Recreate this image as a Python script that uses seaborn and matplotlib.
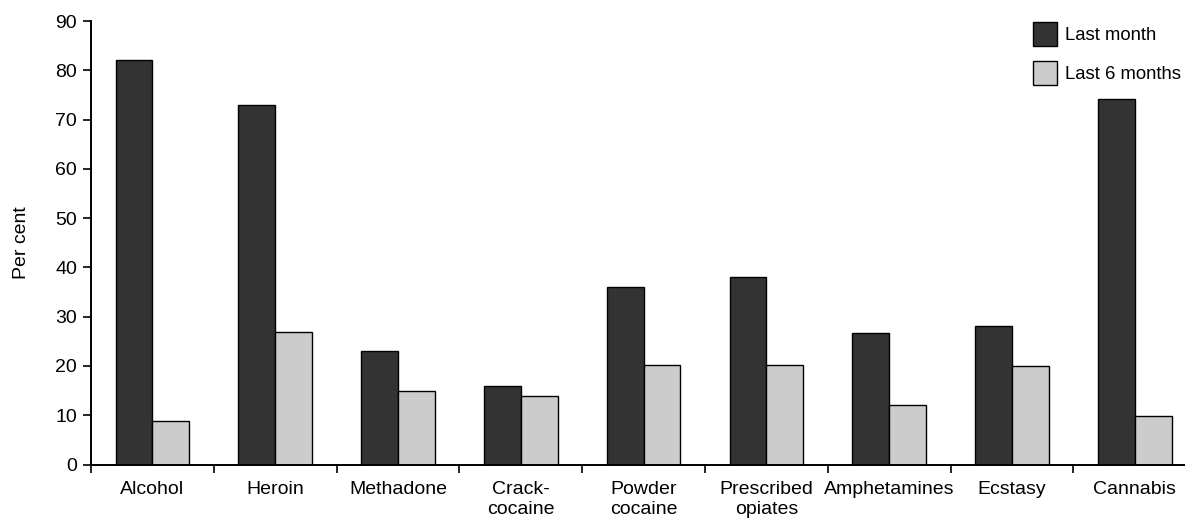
import matplotlib
matplotlib.use('Agg')
import matplotlib.pyplot as plt
import seaborn as sns
import pandas as pd
from matplotlib.patches import Patch
from matplotlib.ticker import FixedLocator

categories = ["Alcohol", "Heroin", "Methadone", "Crack-\ncocaine", "Powder\ncocaine",
              "Prescribed\nopiates", "Amphetamines", "Ecstasy", "Cannabis"]
last_month = [82.1, 72.9, 23.0, 16.0, 36.0, 38.1, 26.7, 28.1, 74.2]
last_6_months = [8.8, 26.8, 15.0, 13.9, 20.1, 20.1, 12.1, 20.0, 9.9]
series = ["Last month", "Last 6 months"]
colors = ["#333333", "#cccccc"]
yticks = list(range(0, 91, 10))

sns.set_theme(style="white")
plt.rcParams['font.family'] = ['Liberation Sans', 'DejaVu Sans']
plt.rcParams['font.size'] = 14
for k in ['text.color', 'axes.labelcolor', 'xtick.color', 'ytick.color']:
    plt.rcParams[k] = 'black'

FS = 14

df = pd.DataFrame({
    "category": categories * 2,
    "value": last_month + last_6_months,
    "series": [series[0]] * len(categories) + [series[1]] * len(categories),
})

fig = plt.figure(figsize=(11.85, 5.19), dpi=100)
W, H = 1185, 519
ax = fig.add_axes([91 / W, 1 - 464.5 / H, (W - 91) / W, (464.5 - 21) / H])

sns.barplot(data=df, x="category", y="value", hue="series", order=categories,
            hue_order=series, palette=colors, width=0.6, edgecolor="black",
            linewidth=1.0, saturation=1, ax=ax, legend=False)

ax.set_ylim(0, 90)
ax.set_xlim(-0.5, (W - 91) / 122.8 - 0.5)
ax.set_yticks(yticks)
ax.set_yticklabels([str(t) for t in yticks], fontsize=FS)
ax.set_xticks(range(len(categories)))
ax.set_xticklabels(categories, fontsize=FS, linespacing=1.2)
ax.xaxis.set_minor_locator(FixedLocator([i - 0.5 for i in range(len(categories) + 1)]))
ax.tick_params(axis='x', which='major', length=0, pad=12)
ax.tick_params(axis='x', which='minor', length=6, width=1.2, direction='out', color='black', bottom=True)
ax.tick_params(axis='y', which='major', length=6, width=1.2, direction='out', color='black', left=True, pad=4)
ax.set_xlabel("")
ax.set_ylabel("Per cent", fontsize=FS, labelpad=18)

for s in ["top", "right"]:
    ax.spines[s].set_visible(False)
for s in ["left", "bottom"]:
    ax.spines[s].set_color("black")
    ax.spines[s].set_linewidth(1.4)

handles = [Patch(facecolor=colors[0], edgecolor="black", linewidth=1.0),
           Patch(facecolor=colors[1], edgecolor="black", linewidth=1.0)]
fig.legend(handles, series, loc="upper left", bbox_to_anchor=(1033 / W, 1 - 22 / H),
           frameon=False, fontsize=13.3, handlelength=1.3, handleheight=1.6,
           handletextpad=0.42, labelspacing=0.85, borderpad=0, borderaxespad=0)

fig.savefig("out.png", dpi=100)
